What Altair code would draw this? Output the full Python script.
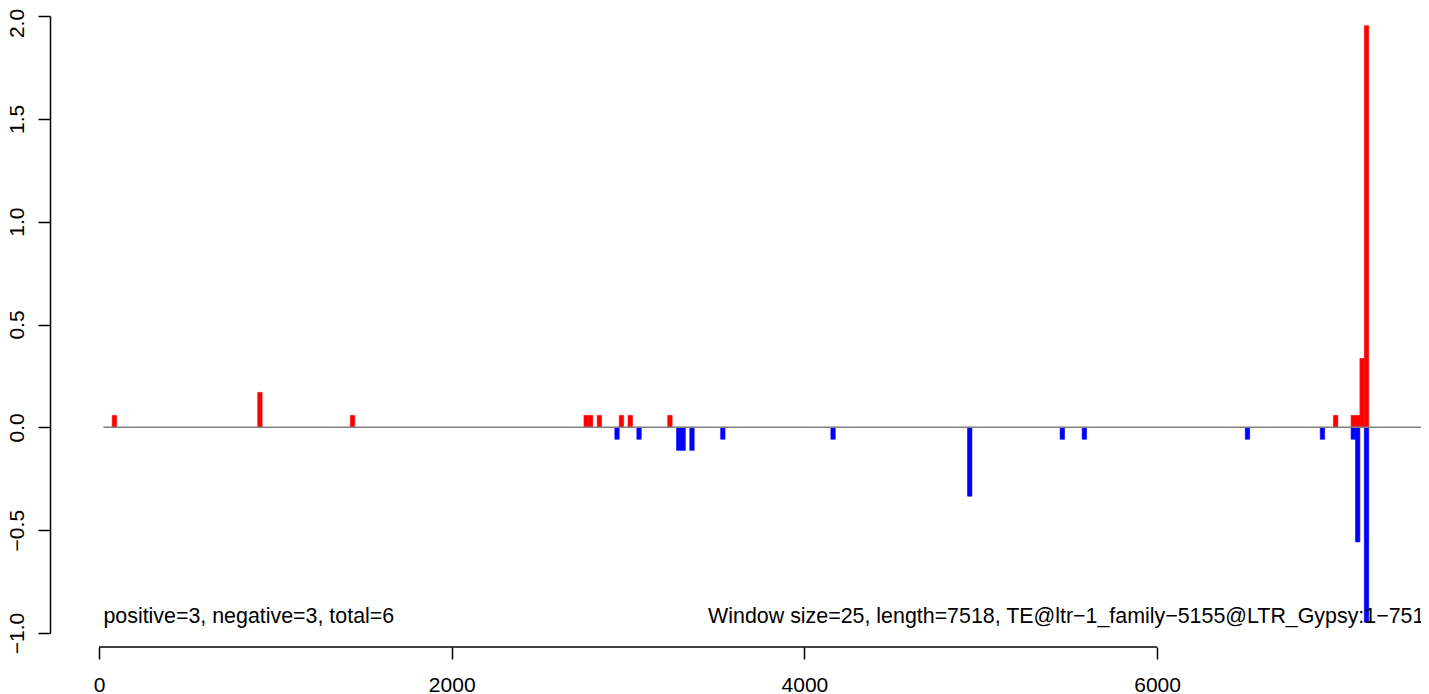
import altair as alt
import pandas as pd

# ---- data ----
WINDOW = 25
pos_starts = [75, 900, 1425, 2750, 2775, 2825, 2950, 3000, 3225, 7000, 7100, 7125, 7150, 7175]
pos_values = [0.058, 0.170, 0.058, 0.058, 0.058, 0.058, 0.058, 0.058, 0.058, 0.058, 0.058, 0.058, 0.335, 1.953]
neg_starts = [2925, 3050, 3275, 3300, 3350, 3525, 4150, 4925, 5450, 5575, 6500, 6925, 7100, 7125, 7175]
neg_values = [-0.058, -0.058, -0.112, -0.112, -0.112, -0.058, -0.058, -0.335, -0.058, -0.058,
              -0.058, -0.058, -0.058, -0.557, -0.948]
x_ticks = [0, 2000, 4000, 6000]
y_ticks = [-1.0, -0.5, 0.0, 0.5, 1.0, 1.5, 2.0]
note_texts = ["positive=3, negative=3, total=6",
              "Window size=25, length=7518, TE@ltr\u22121_family\u22125155@LTR_Gypsy:1\u22127518"]
note_x = [25, 3454]
note_y = [-0.952, -0.952]
zero_line = [25, 7700]
x_axis_span = [0, 6000]

FONT = "Liberation Sans"

bars = pd.DataFrame({
    "start": pos_starts + neg_starts,
    "value": pos_values + neg_values,
    "sign": ["pos"] * len(pos_starts) + ["neg"] * len(neg_starts),
})
bars["end"] = bars["start"] + WINDOW
bars["zero"] = 0.0

notes = pd.DataFrame({"start": note_x, "value": note_y, "text": note_texts})
zl = pd.DataFrame({"start": [zero_line[0]], "end": [zero_line[1]], "value": [0.0]})
xa = pd.DataFrame({"start": [x_axis_span[0]], "end": [x_axis_span[1]]})

px_per_unit = 352.7 / 2000.0
x_scale = alt.Scale(domain=[(50 - 99) / px_per_unit, (1421 - 99) / px_per_unit], nice=False, zero=False)
y_scale = alt.Scale(domain=[-1, 2], nice=False, zero=False)

color_scale = alt.Scale(domain=["pos", "neg"], range=["#ff0000", "#0000ff"])

x_axis = alt.Axis(values=x_ticks, format="d", domain=False, offset=14,
                  tickSize=12, tickWidth=1.5, tickColor="black",
                  labelFontSize=21, labelFont=FONT, labelColor="black",
                  labelBaseline="alphabetic", labelPadding=32,
                  labelFlush=False, labelOverlap=False, grid=False, title=None)
y_axis = alt.Axis(values=y_ticks, format=".1f",
                  labelExpr="replace(datum.label, '-', '\u2212')",
                  labelAngle=270, labelAlign="center", labelBaseline="alphabetic",
                  labelOffset={"condition": {"test": "datum.value >= 2", "value": 7}, "value": 0},
                  labelPadding=15, tickSize=12, tickWidth=1.5, tickColor="black",
                  domainColor="black", domainWidth=1.5,
                  labelFontSize=21, labelFont=FONT, labelColor="black",
                  labelFlush=False, labelOverlap=False, grid=False, title=None)

X = alt.X("start:Q", scale=x_scale, axis=x_axis)
Y = alt.Y("value:Q", scale=y_scale, axis=y_axis)

bar_layer = alt.Chart(bars).mark_rect(strokeWidth=0.6).encode(
    x=X, x2="end:Q", y=Y, y2="zero:Q",
    color=alt.Color("sign:N", scale=color_scale, legend=None),
    stroke=alt.Stroke("sign:N", scale=color_scale, legend=None),
)

zero_layer = alt.Chart(zl).mark_rule(color="#808080", strokeWidth=1.5).encode(
    x=X, x2="end:Q", y=Y,
)

xaxis_layer = alt.Chart(xa).mark_rule(color="black", strokeWidth=1.5).encode(
    x=X, x2="end:Q", y=alt.value(631),
)

text_layer = alt.Chart(notes).mark_text(
    align="left", baseline="alphabetic", fontSize=21.4, font=FONT, color="black"
).encode(x=X, y=Y, text="text:N")

chart = alt.layer(bar_layer, zero_layer, xaxis_layer, text_layer).properties(
    width=1371,
    height=617,
    autosize=alt.AutoSizeParams(type="none"),
    padding={"left": 42, "top": 8, "right": 0, "bottom": 61},
    background="white",
).configure(font=FONT, view=alt.ViewConfig(stroke=None))

chart.save("out.html", embed_options={"renderer": "svg", "actions": False})
